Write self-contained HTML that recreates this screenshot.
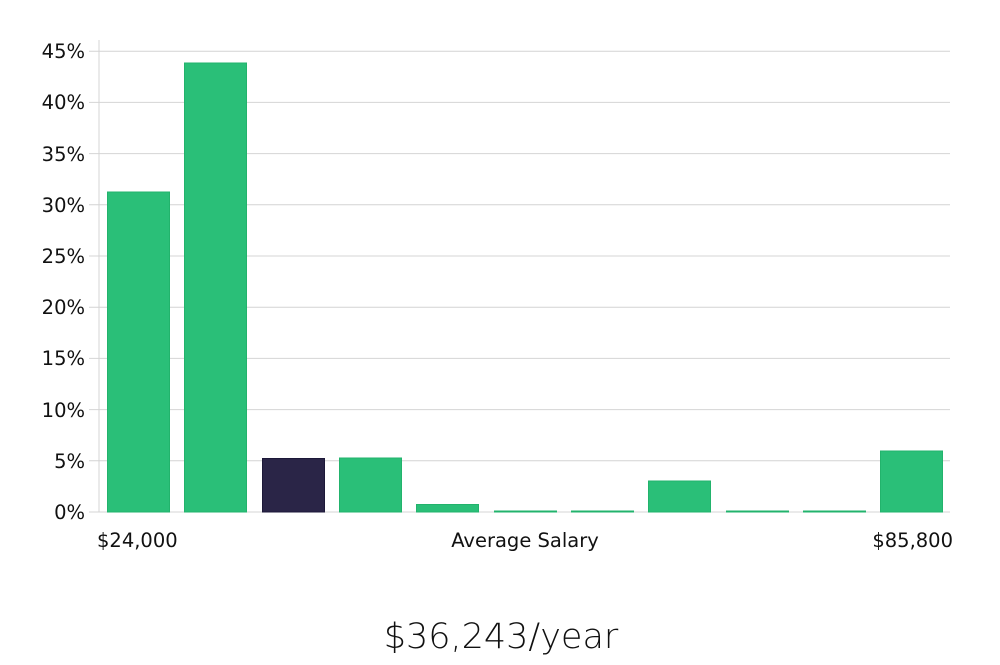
<!DOCTYPE html>
<html><head><style>body{margin:0;background:#fff}</style></head><body>
<svg width="1000" height="660" xmlns="http://www.w3.org/2000/svg" font-family="DejaVu Sans, sans-serif">
<g stroke="#d4d4d4" stroke-width="1">
<line x1="99" y1="40" x2="99" y2="512"/>
<line x1="89" y1="512" x2="950" y2="512"/>
<line x1="89" y1="460.8" x2="950" y2="460.8"/>
<line x1="89" y1="409.6" x2="950" y2="409.6"/>
<line x1="89" y1="358.4" x2="950" y2="358.4"/>
<line x1="89" y1="307.2" x2="950" y2="307.2"/>
<line x1="89" y1="256" x2="950" y2="256"/>
<line x1="89" y1="204.8" x2="950" y2="204.8"/>
<line x1="89" y1="153.6" x2="950" y2="153.6"/>
<line x1="89" y1="102.4" x2="950" y2="102.4"/>
<line x1="89" y1="51.2" x2="950" y2="51.2"/>
</g>
<g font-size="19.5" fill="#111" text-anchor="end">
<text x="85" y="519">0%</text><text x="85" y="468">5%</text><text x="85" y="417">10%</text>
<text x="85" y="365">15%</text><text x="85" y="314">20%</text><text x="85" y="263">25%</text>
<text x="85" y="212">30%</text><text x="85" y="161">35%</text><text x="85" y="109">40%</text>
<text x="85" y="58">45%</text>
</g>
<g fill="#2abf78" stroke="#22b36c" stroke-width="1">
<rect x="107.5" y="192" width="62" height="320"/>
<rect x="184.5" y="63" width="62" height="449"/>
<rect x="339.5" y="458" width="62" height="54"/>
<rect x="416.5" y="504.5" width="62" height="7.5"/>
<rect x="494.5" y="511" width="62" height="1"/>
<rect x="571.5" y="511" width="62" height="1"/>
<rect x="648.5" y="481" width="62" height="31"/>
<rect x="726.5" y="511" width="62" height="1"/>
<rect x="803.5" y="511" width="62" height="1"/>
<rect x="880.5" y="451" width="62" height="61"/>
</g>
<rect x="262.5" y="458.5" width="62" height="53.5" fill="#2a2547" stroke="#1c1838"/>
<g font-size="19.5" fill="#111">
<text x="97" y="547">$24,000</text>
<text x="525" y="547" text-anchor="middle">Average Salary</text>
<text x="953" y="547" text-anchor="end">$85,800</text>
</g>
<text x="501" y="648" font-size="35" text-anchor="middle" fill="#111" font-weight="300">$36,243/year</text>
</svg>
</body></html>
